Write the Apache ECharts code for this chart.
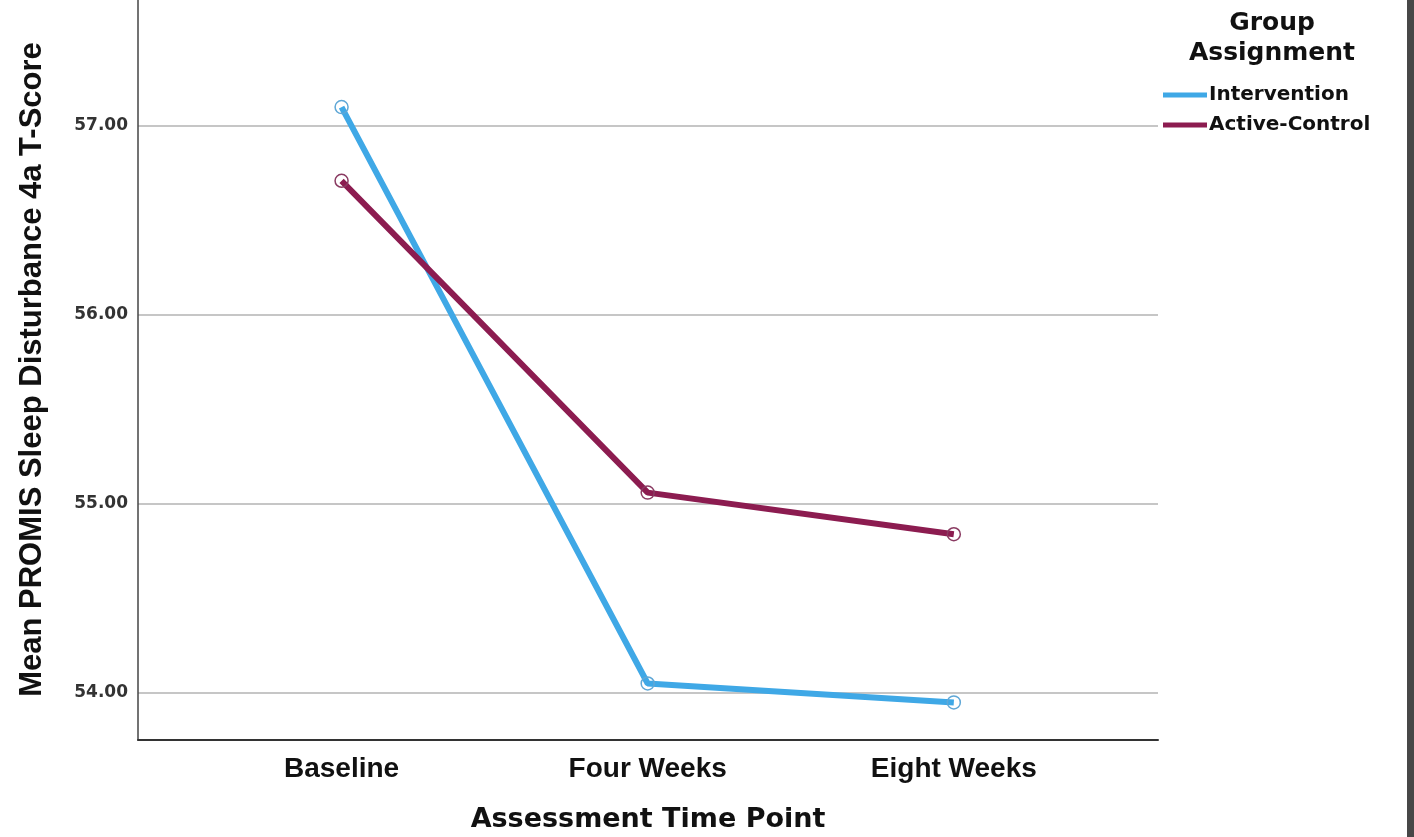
<!DOCTYPE html>
<html><head><meta charset="utf-8">
<script src="https://cdn.jsdelivr.net/npm/echarts@6/dist/echarts.min.js"></script>
<style>html,body{margin:0;padding:0;background:#474747;overflow:hidden;}#c{width:1407px;height:837px;background:#fff;}</style>
</head><body><div id="c"></div>
<script>
const categories = ['Baseline', 'Four Weeks', 'Eight Weeks'];
const interventionValues = [57.10, 54.05, 53.95];
const activeControlValues = [56.71, 55.06, 54.84];
const seriesNames = ['Intervention', 'Active-Control'];
const seriesColors = ['#3FA8E6', '#8C1C50'];
const legendTitle = 'Group\nAssignment';
const xTitle = 'Assessment Time Point';
const yTitle = 'Mean PROMIS Sleep Disturbance 4a T-Score';

function isInt(v) { return Math.abs(v - Math.round(v)) < 1e-6; }
function pairs(vals) { return vals.map((v, i) => [i, v]); }

const chart = echarts.init(document.getElementById('c'), null, { renderer: 'canvas' });
chart.setOption({
  animation: false,
  backgroundColor: '#fff',
  title: {
    text: legendTitle,
    left: 1272,
    top: 8,
    padding: 0,
    textAlign: 'center',
    textStyle: { fontFamily: 'DejaVu Sans', fontWeight: 'bold', fontSize: 25, lineHeight: 30, color: '#111' }
  },
  legend: {
    orient: 'vertical',
    left: 1163,
    top: 83,
    padding: 0,
    itemWidth: 44,
    itemHeight: 5,
    itemGap: 6,
    icon: 'rect',
    textStyle: { fontFamily: 'DejaVu Sans', fontWeight: 'bold', fontSize: 20, lineHeight: 24, color: '#111', padding: [0, 0, 0, -3] },
    data: seriesNames.map((n, i) => ({ name: n, itemStyle: { color: seriesColors[i], borderWidth: 0 } }))
  },
  grid: { left: 138, right: 249, top: -10, bottom: 97, containLabel: false, outerBoundsMode: 'none' },
  xAxis: {
    type: 'value',
    min: -0.665,
    max: 2.667,
    splitNumber: 3,
    name: xTitle,
    nameLocation: 'middle',
    nameGap: 66,
    nameTextStyle: { fontFamily: 'DejaVu Sans', fontWeight: 'bold', fontSize: 27, color: '#111' },
    axisLine: { show: true, onZero: false, lineStyle: { color: '#333', width: 2 } },
    axisTick: { show: false },
    splitLine: { show: false },
    axisLabel: {
      showMinLabel: false, showMaxLabel: false,
      margin: 15,
      fontFamily: 'Liberation Sans', fontWeight: 'bold', fontSize: 28, color: '#111',
      formatter: v => (isInt(v) && categories[Math.round(v)] !== undefined) ? categories[Math.round(v)] : ''
    }
  },
  yAxis: {
    type: 'value',
    min: 53.751,
    max: 57.7196,
    splitNumber: 4,
    name: yTitle,
    nameLocation: 'middle',
    nameGap: 90,
    nameTextStyle: { fontFamily: 'Liberation Sans', fontWeight: 'bold', fontSize: 31, color: '#111', padding: [0, 9, 0, 0] },
    axisLine: { show: true, onZero: false, lineStyle: { color: '#444', width: 1.5 } },
    axisTick: { show: false },
    splitLine: { show: true, lineStyle: { color: '#c6c6c6', width: 2 } },
    axisLabel: {
      showMinLabel: false, showMaxLabel: false,
      margin: 10,
      fontFamily: 'DejaVu Sans', fontWeight: 'bold', fontSize: 17, color: '#333',
      formatter: v => isInt(v) ? v.toFixed(2) : ''
    }
  },
  series: [
    {
      name: seriesNames[0], type: 'line', data: pairs(interventionValues),
      lineStyle: { color: seriesColors[0], width: 6 },
      symbol: 'circle', symbolSize: 13,
      itemStyle: { color: 'rgba(255,255,255,0)', borderColor: '#5fa7d6', borderWidth: 1.5 }
    },
    {
      name: seriesNames[1], type: 'line', data: pairs(activeControlValues),
      lineStyle: { color: seriesColors[1], width: 6 },
      symbol: 'circle', symbolSize: 13,
      itemStyle: { color: 'rgba(255,255,255,0)', borderColor: '#8a3b62', borderWidth: 1.5 }
    }
  ]
});
</script></body></html>
